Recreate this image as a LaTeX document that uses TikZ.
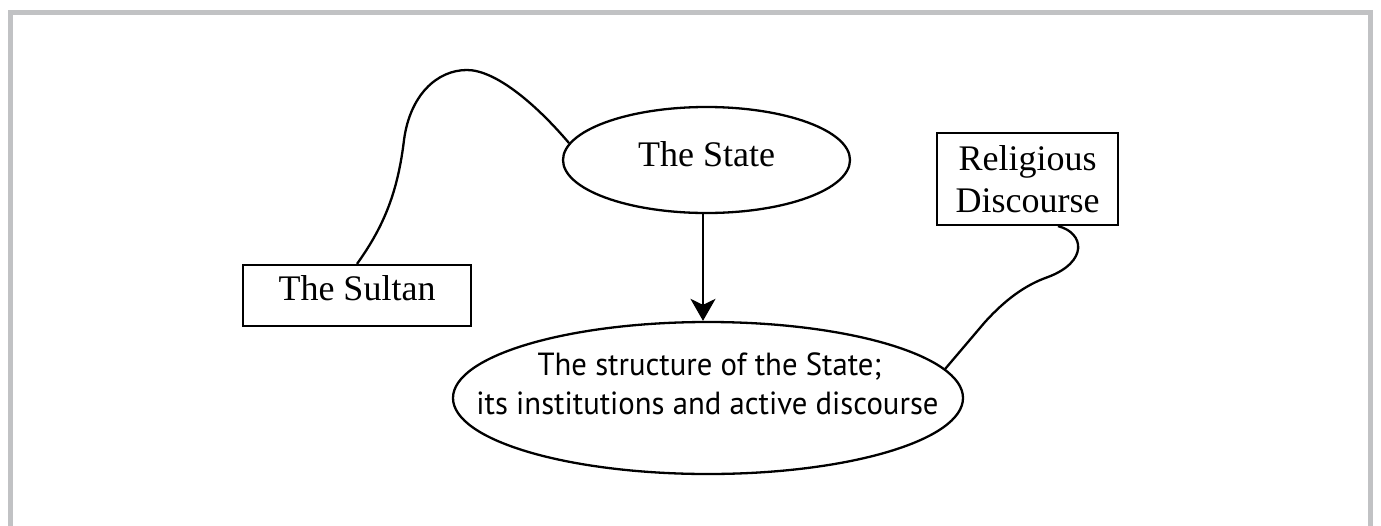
\documentclass[tikz,border=0pt]{standalone}
\usepackage{fontspec}
\setmainfont{Liberation Serif}
\newfontfamily\labelsans[FakeStretch=0.96]{PT Sans}
\usetikzlibrary{shapes.geometric,arrows.meta,calc}
\definecolor{framegray}{HTML}{C1C2C4}
\begin{document}
\begin{tikzpicture}[x=1pt,y=-1pt,
  serifbox/.style={draw, line width=2.2pt, rectangle, inner sep=0pt, font=\fontsize{36}{42}\selectfont, align=center},
  ovalnode/.style={draw, line width=2.3pt, ellipse, inner sep=0pt},
  sanslabel/.style={inner sep=0pt, font=\labelsans\fontsize{32}{38}\selectfont},
  conn/.style={line width=2.3pt},
  framestyle/.style={draw=framegray, line width=5pt, line join=miter}
]
\useasboundingbox (0,0) rectangle (1381,525);
\draw[framestyle] (10.8,535) -- (10.8,12.8) -- (1370.5,12.8) -- (1370.5,535);

\node[serifbox, minimum width=228pt, minimum height=61pt, text height=25pt, text depth=14.6pt] (sultan) at (357,295.5) {The Sultan};
\node[ovalnode, minimum width=287pt, minimum height=106pt, font=\fontsize{36}{42}\selectfont, text height=25pt, text depth=13pt] (state) at (706.5,160) {The State};
\node[serifbox, minimum width=181pt, minimum height=92pt] (relig) at (1027.5,179) {Religious\\Discourse};
\node[ovalnode, minimum width=510pt, minimum height=152pt] (struct) at (708,398) {};
\node[sanslabel, anchor=base] (structa) at (709.5,375) {The structure of the State;};
\node[sanslabel, anchor=base] (structb) at (707.5,414) {its institutions and active discourse};

\draw[conn] (sultan.north) .. controls (385,225) and (398,190) .. (404,140)
  .. controls (410,95) and (437,70) .. (467,70)
  .. controls (495,70) and (535,103) .. (state.173);
\draw[conn] ([xshift=30.5pt]relig.south) .. controls (1085,233) and (1088,262) .. (1048,277)
  .. controls (1025,285) and (1005,300) .. (985,322) -- (struct.7);
\coordinate (arrowtop) at ([xshift=-3.5pt]state.south);
\draw[conn, -{Stealth[length=22pt,width=25pt,inset=6pt]}] (arrowtop) -- (arrowtop |- struct.north);
\end{tikzpicture}
\end{document}
